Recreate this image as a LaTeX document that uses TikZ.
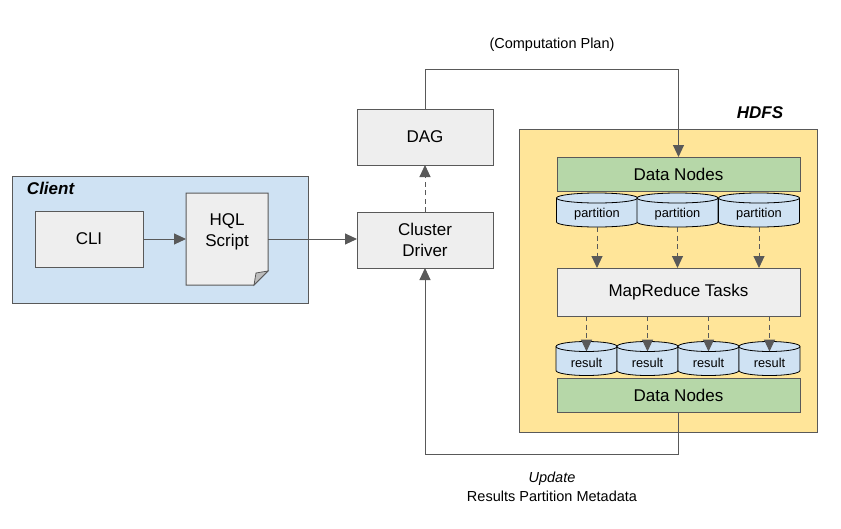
\documentclass[tikz,border=0pt]{standalone}
\usepackage{fontspec}
\setmainfont{Liberation Sans}
\usetikzlibrary{arrows.meta}
\definecolor{lineg}{HTML}{595959}
\definecolor{clientbg}{HTML}{CFE2F3}
\definecolor{boxg}{HTML}{EEEEEE}
\definecolor{hdfsbg}{HTML}{FFE599}
\definecolor{dngreen}{HTML}{B6D7A8}
\definecolor{cylblue}{HTML}{CFE2F3}
\definecolor{foldg}{HTML}{BDBDBD}
% cylinder: name, x, y, width, half width, text
\newcommand\cylnode[6]{%
  \node[minimum width=#4pt, minimum height=34pt] (#1) at (#2,#3) {};
  \draw[cylsty] ([yshift=-5pt]#1.north west) -- ([yshift=5pt]#1.south west)
    arc[start angle=180,end angle=360,x radius=#5pt,y radius=5pt]
    -- ([yshift=-5pt]#1.north east)
    arc[start angle=0,end angle=180,x radius=#5pt,y radius=5pt] -- cycle;
  \draw[cylsty, fill=none] ([yshift=-5pt]#1.north west)
    arc[start angle=180,end angle=360,x radius=#5pt,y radius=5pt];
  \node[smalltxt] (#1-t) at ([yshift=-4.5pt]#1.center) {#6};
}
\begin{document}
\begin{tikzpicture}[x=1pt,y=-1pt,
  every node/.style={inner sep=0pt, outer sep=0pt},
  bigtxt/.style={font=\fontsize{17}{20.5}\selectfont},
  midtxt/.style={font=\fontsize{14.5}{17}\selectfont},
  smalltxt/.style={font=\fontsize{12.8}{15}\selectfont},
  titletxt/.style={font=\fontsize{17}{20}\selectfont\bfseries\itshape},
  container/.style={draw=lineg, line width=1pt},
  box/.style={draw=lineg, line width=1pt, fill=boxg, bigtxt, align=center},
  dnbox/.style={draw=lineg, line width=1pt, fill=dngreen, bigtxt, minimum width=243pt, minimum height=34pt},
  cylsty/.style={draw=black, line width=0.8pt, fill=cylblue},
  conn/.style={draw=lineg, line width=1pt},
  arr/.style={conn, -{Triangle[length=12pt,width=11pt]}},
  darr/.style={arr, dash pattern=on 5pt off 3.5pt}
]
\useasboundingbox (0,0) rectangle (841,528);

% containers
\node[container, fill=clientbg, minimum width=296pt, minimum height=127pt] (client) at (160,239.5) {};
\node[titletxt, anchor=west] (clientlbl) at (27,188) {Client};
\node[container, fill=hdfsbg, minimum width=298pt, minimum height=303pt] (hdfs) at (668,280.5) {};
\node[titletxt] (hdfslbl) at (760,113) {HDFS};

% client side
\node[box, minimum width=108pt, minimum height=56pt] (cli) at (89,239) {CLI};
\node[minimum width=82pt, minimum height=92pt] (hql) at (227,239) {};
\draw[draw=lineg, line width=1pt, fill=boxg]
  (hql.north west) -- (hql.north east) -- ([yshift=14pt]hql.south east)
  -- ([xshift=-14pt]hql.south east) -- (hql.south west) -- cycle;
\draw[draw=lineg, line width=0.8pt, fill=foldg]
  ([yshift=14pt]hql.south east) -- ([xshift=-12pt,yshift=12pt]hql.south east)
  -- ([xshift=-14pt]hql.south east) -- cycle;
\node[bigtxt, align=center] (hqllbl) at (227,232) {HQL\\Script};

% driver and dag
\node[box, minimum width=136pt, minimum height=56pt] (driver) at (425,240) {Cluster\\Driver};
\node[box, minimum width=136pt, minimum height=56pt] (dag) at (425,137) {DAG};

% hdfs content
\node[dnbox] (dn1) at (678.5,174) {Data Nodes};
\cylnode{p1}{597}{210}{81}{40.5}{partition}
\cylnode{p2}{677.5}{210}{81}{40.5}{partition}
\cylnode{p3}{759}{210}{81}{40.5}{partition}
\node[box, minimum width=243pt, minimum height=48pt] (mr) at (678.5,292) {MapReduce Tasks};
\cylnode{r1}{586.5}{358.5}{61}{30.5}{result}
\cylnode{r2}{647.5}{358.5}{61}{30.5}{result}
\cylnode{r3}{708.5}{358.5}{61}{30.5}{result}
\cylnode{r4}{769.5}{358.5}{61}{30.5}{result}
\node[dnbox] (dn2) at (678.5,395) {Data Nodes};

% connectors
\draw[arr] (cli.east) -- (hql.west);
\draw[arr] (hql.east) -- (hql.east -| driver.west);
\draw[darr] (driver.north) -- (dag.south);
\coordinate (planturn) at (425,69);
\draw[arr] (dag.north) -- (planturn) -| (dn1.north);
\node[midtxt] (planlbl) at (552,45) {(Computation Plan)};

\foreach \p in {p1,p2,p3} \draw[darr] (\p.south) -- (\p.south |- mr.north);
\foreach \r in {r1,r2,r3,r4} \draw[darr] (\r.north |- mr.south) -- ([yshift=-10pt]\r.north);

\coordinate (retturn) at (425,454);
\draw[arr] (dn2.south) |- (retturn) -- (driver.south);
\node[midtxt, font=\fontsize{14.5}{17}\selectfont\itshape] (updlbl) at (552,479) {Update};
\node[midtxt] (metalbl) at (552,496) {Results Partition Metadata};
\end{tikzpicture}
\end{document}
